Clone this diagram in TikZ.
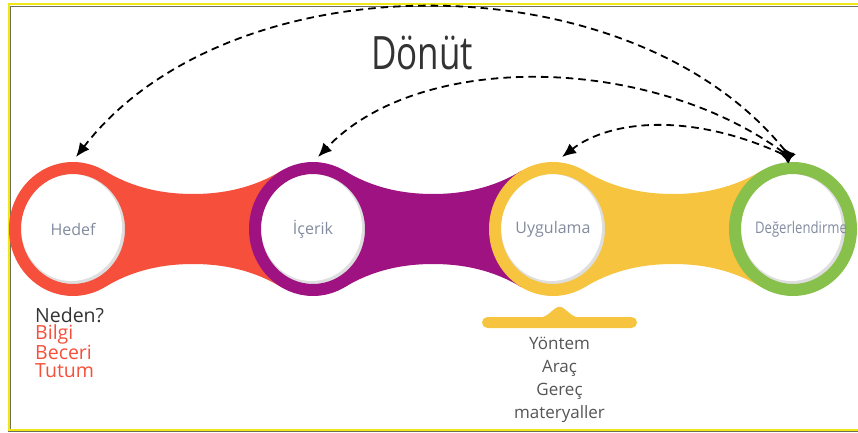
\documentclass[tikz,border=0pt]{standalone}
\usepackage{fontspec}
\setmainfont{Open Sans}
\usepackage{tikz}
\usetikzlibrary{shapes.geometric,arrows.meta,backgrounds,positioning}

\definecolor{hedefc}{RGB}{246,80,60}
\definecolor{icerikc}{RGB}{158,18,130}
\definecolor{uygc}{RGB}{246,196,62}
\definecolor{degc}{RGB}{135,192,74}
\definecolor{labelc}{RGB}{130,140,158}
\definecolor{shadowc}{RGB}{222,222,222}
\definecolor{darkc}{RGB}{51,51,51}
\definecolor{toolc}{RGB}{85,85,85}
\definecolor{framey}{RGB}{240,232,20}
\definecolor{frameg}{RGB}{110,110,90}

\begin{document}
\begin{tikzpicture}[
        x=1pt, y=1pt,
        bubble/.style = {ellipse, minimum width=116pt, minimum height=122pt, inner sep=0pt, line width=12pt,
            fill=shadowc, text=labelc, font=\fontsize{16}{16}\selectfont,
            path picture={\fill[white] ([xshift=-1.5pt,yshift=1.5pt]path picture bounding box.center) ellipse [x radius=50.5pt, y radius=53.5pt];}},
        feedback/.style = {line width=1.8pt, dash pattern=on 7.5pt off 5pt,
            {Latex[length=14pt,width=12pt,reversed]}-{Latex[length=14pt,width=12pt]}}
        ]
    \useasboundingbox (0,0) rectangle (858,432);

    \node[bubble, draw=hedefc] (hedef) at (73,203) {\makebox[0pt]{Hedef}};
    \node[bubble, draw=icerikc] (icerik) at (313,203) {\makebox[0pt]{İçerik}};
    \node[bubble, draw=uygc] (uygulama) at (553,203) {\makebox[0pt]{Uygulama}};
    \node[bubble, draw=degc] (deger) at (793,203) {\makebox[0pt]{\hspace*{16pt}\scalebox{0.82}[1]{Değerlendirme}}};

    \begin{scope}[on background layer]
        \draw[framey, line width=2pt] (870,427.5) -- (8.5,427.5) -- (8.5,2) -- (870,2);
        \draw[frameg, line width=1.5pt] (870,425.5) -- (10.5,425.5) -- (10.5,3);
        \draw[frameg, line width=1.2pt] (8,0.6) -- (870,0.6);
        \foreach \a/\b/\col in {hedef/icerik/hedefc, icerik/uygulama/icerikc, uygulama/deger/uygc}
            \fill[\col, shift={(\a.center)}] (32,58) .. controls (60,41) and (90,35) .. (120,35)
                .. controls (150,35) and (180,41) .. (208,58) -- (\b.center) -- (208,-58)
                .. controls (180,-41) and (150,-35) .. (120,-35) .. controls (90,-35) and (60,-41) .. (32,-58)
                -- (\a.center) -- cycle;
    \end{scope}

    \node[font=\fontsize{46}{46}\selectfont, text=darkc] (donut) at (422,379) {\scalebox{0.76}[1]{Dönüt}};

    \coordinate (src) at ([xshift=-2pt,yshift=4pt]deger.north);
    \draw[feedback] (src) .. controls (630,474) and (230,474) .. ([xshift=3pt,yshift=5pt]hedef.north);
    \draw[feedback] (src) .. controls (650,377) and (420,382) .. ([xshift=5pt,yshift=5pt]icerik.north);
    \draw[feedback] (src) .. controls (690,320) and (610,312) .. ([xshift=9pt,yshift=5pt]uygulama.north);

    \node[anchor=north west, align=left, inner sep=0pt, font=\fontsize{19.5}{17.7}\selectfont, text=darkc]
        (neden) at (35,125) {Neden?\\\textcolor{hedefc}{Bilgi}\\\textcolor{hedefc}{Beceri}\\\textcolor{hedefc}{Tutum}};

    \node[fill=uygc, rounded corners=5.5pt, minimum width=155pt, minimum height=11pt, inner sep=0pt] (bar) at (559.5,109.5) {};
    \fill[uygc] ([xshift=-21pt,yshift=-1pt]bar.north) .. controls +(10,0) and +(-6,0) .. ([yshift=10pt]bar.north)
        .. controls +(6,0) and +(-10,0) .. ([xshift=21pt,yshift=-1pt]bar.north) -- cycle;
    \node[below=9pt of bar, align=center, inner sep=0pt, font=\fontsize{17}{23}\selectfont, text=toolc]
        (tools) {Yöntem\\Araç\\Gereç\\materyaller};
\end{tikzpicture}
\end{document}
